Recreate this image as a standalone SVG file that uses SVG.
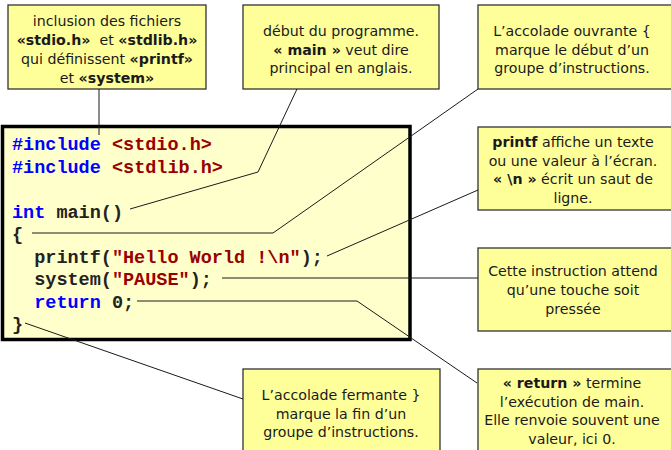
<svg xmlns="http://www.w3.org/2000/svg" width="671" height="450" viewBox="0 0 671 450">
  <style>
    .note { fill: #FFFF99; stroke: #333; stroke-width: 1.3; }
    .ntxt { font-family: "DejaVu Sans", Verdana, sans-serif; font-size: 14.2px; fill: #1a1a1a; text-anchor: middle; white-space: pre; }
    .b { font-weight: bold; }
    .code { font-family: "Liberation Mono", "Courier New", monospace; font-size: 18.5px; font-weight: bold; fill: #222; }
    .kw { fill: #0000FF; }
    .str { fill: #990000; }
    .link { fill: none; stroke: #1a1a1a; stroke-width: 1; }
  </style>

  <!-- source listing -->
  <g id="code">
    <rect x="2.5" y="126.5" width="407.5" height="213" fill="#FFFFCC" stroke="#000" stroke-width="3.5"/>
    <text class="code" x="12" y="150"><tspan class="kw">#include</tspan> <tspan class="str">&lt;stdio.h&gt;</tspan></text>
    <text class="code" x="12" y="172.5"><tspan class="kw">#include</tspan> <tspan class="str">&lt;stdlib.h&gt;</tspan></text>
    <text class="code" x="12" y="217.5"><tspan class="kw">int</tspan> main()</text>
    <text class="code" x="12" y="240">{</text>
    <text class="code" x="34.2" y="262.5">printf(<tspan class="str">"Hello World !\n"</tspan>);</text>
    <text class="code" x="34.2" y="285">system(<tspan class="str">"PAUSE"</tspan>);</text>
    <text class="code" x="34.2" y="307.5"><tspan class="kw">return</tspan> 0;</text>
    <text class="code" x="12" y="330">}</text>
  </g>

  <!-- callouts -->
  <g id="note-include">
    <rect class="note" x="8" y="5" width="198" height="84"/>
    <text class="ntxt" x="107" y="26">inclusion des fichiers</text>
    <text class="ntxt" x="107" y="45" xml:space="preserve"><tspan class="b">«stdio.h»</tspan>  et <tspan class="b">«stdlib.h»</tspan></text>
    <text class="ntxt" x="107" y="64">qui définissent <tspan class="b">«printf»</tspan></text>
    <text class="ntxt" x="107" y="83">et <tspan class="b">«system»</tspan></text>
  </g>

  <g id="note-main">
    <rect class="note" x="243" y="5" width="196" height="84"/>
    <text class="ntxt" x="341" y="36">début du programme.</text>
    <text class="ntxt" x="341" y="54.5"><tspan class="b">« main »</tspan> veut dire</text>
    <text class="ntxt" x="341" y="73">principal en anglais.</text>
  </g>

  <g id="note-open-brace">
    <rect class="note" x="478" y="5" width="200" height="84"/>
    <text class="ntxt" x="572" y="36">L’accolade ouvrante {</text>
    <text class="ntxt" x="572" y="54.5">marque le début d’un</text>
    <text class="ntxt" x="572" y="73">groupe d’instructions.</text>
  </g>

  <g id="note-printf">
    <rect class="note" x="478" y="127" width="200" height="83"/>
    <text class="ntxt" x="573" y="147"><tspan class="b">printf</tspan> affiche un texte</text>
    <text class="ntxt" x="573" y="165.5">ou une valeur à l’écran.</text>
    <text class="ntxt" x="573" y="184"><tspan class="b">« \n »</tspan> écrit un saut de</text>
    <text class="ntxt" x="573" y="202.5">ligne.</text>
  </g>

  <g id="note-system">
    <rect class="note" x="478" y="248" width="200" height="83"/>
    <text class="ntxt" x="573" y="276">Cette instruction attend</text>
    <text class="ntxt" x="573" y="295">qu’une touche soit</text>
    <text class="ntxt" x="573" y="314">pressée</text>
  </g>

  <g id="note-return">
    <rect class="note" x="478" y="369" width="200" height="90"/>
    <text class="ntxt" x="572" y="388"><tspan class="b">« return »</tspan> termine</text>
    <text class="ntxt" x="572" y="406.5">l’exécution de main.</text>
    <text class="ntxt" x="572" y="425">Elle renvoie souvent une</text>
    <text class="ntxt" x="572" y="443.5">valeur, ici 0.</text>
  </g>

  <g id="note-close-brace">
    <rect class="note" x="243" y="369" width="197" height="90"/>
    <text class="ntxt" x="341" y="400">L’accolade fermante }</text>
    <text class="ntxt" x="341" y="418.5">marque la fin d’un</text>
    <text class="ntxt" x="341" y="437">groupe d’instructions.</text>
  </g>

  <!-- leader lines -->
  <g id="connectors">
    <polyline class="link" points="99,89 99,135"/>
    <polyline class="link" points="297,89 258,172 130,209"/>
    <polyline class="link" points="478,89 273,233 32,233"/>
    <polyline class="link" points="478,190 327,256"/>
    <polyline class="link" points="478,278 222,278"/>
    <polyline class="link" points="477,383 357,301 137,301"/>
    <polyline class="link" points="243,399 25,323"/>
  </g>
</svg>
